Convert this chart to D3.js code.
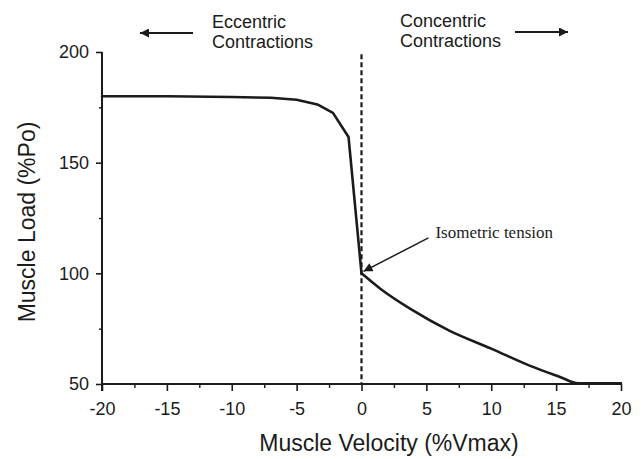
<!DOCTYPE html>
<html>
<head>
<meta charset="utf-8">
<script src="https://cdn.jsdelivr.net/npm/d3@7"></script>
<style>
  html, body { margin: 0; padding: 0; background: #fff; }
  svg { display: block; }
</style>
</head>
<body>
<svg id="chart" width="643" height="459"></svg>
<script>
// ---- Data ----
const velocity = [-20, -15, -10, -7, -5, -3.4, -2.2, -1.0, 0, 1.5, 3.8, 6.8, 10, 13, 15.3, 16.7, 20];
const load     = [180, 180, 179.7, 179.3, 178.4, 176.3, 172.5, 161.6, 100, 92.8, 83.8, 74, 66, 58.2, 53.2, 50.3, 50.3];
const xTicks = [-20, -15, -10, -5, 0, 5, 10, 15, 20];
const xMinorTicks = [-17.5, -12.5, -7.5, -2.5, 2.5, 7.5, 12.5, 17.5];
const yTicks = [50, 100, 150, 200];
const yMinorTicks = [75, 125, 175];
const xTitle = "Muscle Velocity (%Vmax)";
const yTitle = "Muscle Load (%Po)";
const leftLabel = ["Eccentric", "Contractions"];
const rightLabel = ["Concentric", "Contractions"];
const annotation = { text: "Isometric tension", x: 0, y: 100, tx: 5.7, ty: 116 };

// ---- Setup ----
const svg = d3.select("#chart");
const sans = "'Liberation Sans', Arial, Helvetica, sans-serif";
const serif = "'Liberation Serif', 'Times New Roman', serif";
const ink = "#1b1b1b";

const x = d3.scaleLinear().domain([-20, 20]).range([102, 621]);
const y = d3.scaleLinear().domain([50, 200]).range([384, 52]);

// defs: arrowhead
const defs = svg.append("defs");
defs.append("marker")
  .attr("id", "head")
  .attr("viewBox", "0 0 10 10")
  .attr("refX", 10).attr("refY", 5)
  .attr("markerUnits", "userSpaceOnUse")
  .attr("markerWidth", 13).attr("markerHeight", 9)
  .attr("orient", "auto")
  .append("path").attr("d", "M0,0 L10,5 L0,10 Z").attr("fill", ink);

// ---- Axes ----
const xAxis = d3.axisBottom(x).tickValues(xTicks).tickSize(7).tickPadding(11)
  .tickFormat(d => String(d));
const gx = svg.append("g").attr("transform", `translate(0,${y(50)})`).call(xAxis);
gx.select(".domain").attr("d", `M${x(-20)},0H${x(20)}`);
gx.selectAll("line").attr("stroke", ink).attr("stroke-width", 1.6);
gx.select(".domain").attr("stroke", ink).attr("stroke-width", 2);
gx.selectAll("text").attr("font-family", sans).attr("font-size", 18).attr("fill", ink);

const xMinor = d3.axisBottom(x).tickValues(xMinorTicks).tickSize(4).tickFormat("");
const gxm = svg.append("g").attr("transform", `translate(0,${y(50)})`).call(xMinor);
gxm.select(".domain").remove();
gxm.selectAll("line").attr("stroke", ink).attr("stroke-width", 1.4);

const yAxis = d3.axisLeft(y).tickValues(yTicks).tickSize(6).tickPadding(7)
  .tickFormat(d => String(d));
const gy = svg.append("g").attr("transform", `translate(${x(-20)},0)`).call(yAxis);
gy.select(".domain").attr("d", `M0,${y(200)}V${y(50) + 7}`).attr("stroke", ink).attr("stroke-width", 2);
gy.selectAll("line").attr("stroke", ink).attr("stroke-width", 1.6);
gy.selectAll("text").attr("font-family", sans).attr("font-size", 18).attr("fill", ink);

const yMinor = d3.axisLeft(y).tickValues(yMinorTicks).tickSize(3).tickFormat("");
const gym = svg.append("g").attr("transform", `translate(${x(-20)},0)`).call(yMinor);
gym.select(".domain").remove();
gym.selectAll("line").attr("stroke", ink).attr("stroke-width", 1.4);

// ---- Dashed zero line ----
svg.append("line")
  .attr("x1", x(0)).attr("x2", x(0))
  .attr("y1", y(199)).attr("y2", y(50))
  .attr("stroke", ink).attr("stroke-width", 2.2)
  .attr("stroke-dasharray", "5,3");

// ---- Curve (two halves, split at the isometric point) ----
const pts = velocity.map((v, i) => [v, load[i]]);
const ecc = pts.filter(d => d[0] <= 0);
const con = pts.filter(d => d[0] >= 0);
const lineEcc = d3.line().x(d => x(d[0])).y(d => y(d[1])).curve(d3.curveLinear);
const lineCon = d3.line().x(d => x(d[0])).y(d => y(d[1])).curve(d3.curveMonotoneX);
[[ecc, lineEcc], [con, lineCon]].forEach(([data, gen]) => {
  svg.append("path")
    .datum(data)
    .attr("fill", "none")
    .attr("stroke", ink)
    .attr("stroke-width", 2.6)
    .attr("stroke-linejoin", "round")
    .attr("stroke-linecap", "round")
    .attr("d", gen);
});

// ---- Axis titles ----
svg.append("text")
  .attr("x", 389).attr("y", 451)
  .attr("text-anchor", "middle")
  .attr("font-family", sans).attr("font-size", 23).attr("fill", ink)
  .text(xTitle);
svg.append("text")
  .attr("transform", "translate(35,222) rotate(-90)")
  .attr("text-anchor", "middle")
  .attr("font-family", sans).attr("font-size", 23).attr("fill", ink)
  .text(yTitle);

// ---- Top direction labels ----
const lt = svg.append("text").attr("font-family", sans).attr("font-size", 18).attr("fill", ink);
leftLabel.forEach((s, i) => lt.append("tspan").attr("x", 212).attr("y", 28 + i * 20).text(s));
const rt = svg.append("text").attr("font-family", sans).attr("font-size", 18).attr("fill", ink);
rightLabel.forEach((s, i) => rt.append("tspan").attr("x", 400).attr("y", 27 + i * 20).text(s));

svg.append("line").attr("x1", 193).attr("y1", 33).attr("x2", 140).attr("y2", 33)
  .attr("stroke", ink).attr("stroke-width", 2).attr("marker-end", "url(#head)");
svg.append("line").attr("x1", 515).attr("y1", 32).attr("x2", 568).attr("y2", 32)
  .attr("stroke", ink).attr("stroke-width", 2).attr("marker-end", "url(#head)");

// ---- Annotation ----
svg.append("text")
  .attr("x", x(annotation.tx)).attr("y", y(annotation.ty))
  .attr("font-family", serif).attr("font-size", 17).attr("fill", ink)
  .text(annotation.text);
svg.append("line")
  .attr("x1", x(annotation.tx) - 7).attr("y1", y(annotation.ty))
  .attr("x2", x(annotation.x) + 2).attr("y2", y(annotation.y) - 2)
  .attr("stroke", ink).attr("stroke-width", 1.5)
  .attr("marker-end", "url(#head)");
</script>
</body>
</html>
